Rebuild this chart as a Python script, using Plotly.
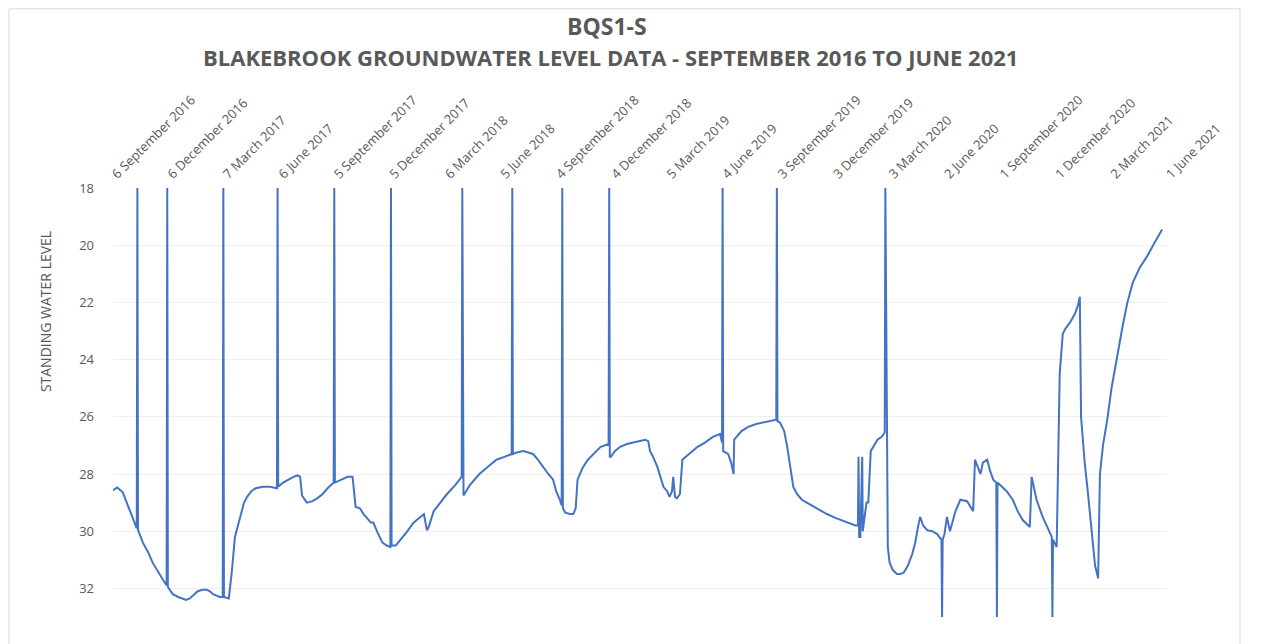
import plotly.graph_objects as go

# ---- data ----
dates = [
    "2016-09-06", "2016-09-13", "2016-09-22", "2016-09-30", "2016-10-08", "2016-10-15", "2016-10-16", "2016-10-17",
    "2016-10-25", "2016-11-03", "2016-11-10", "2016-11-18", "2016-11-27", "2016-12-03", "2016-12-04", "2016-12-05",
    "2016-12-13", "2016-12-22", "2016-12-28", "2017-01-04", "2017-01-10", "2017-01-15", "2017-01-23", "2017-01-31",
    "2017-02-07", "2017-02-12", "2017-02-17", "2017-02-23", "2017-02-28", "2017-03-05", "2017-03-06", "2017-03-07",
    "2017-03-15", "2017-03-20", "2017-03-25", "2017-03-30", "2017-04-03", "2017-04-09", "2017-04-14", "2017-04-21",
    "2017-04-28", "2017-05-10", "2017-05-21", "2017-05-30", "2017-06-02", "2017-06-03", "2017-06-04", "2017-06-12",
    "2017-06-20", "2017-06-29", "2017-07-06", "2017-07-10", "2017-07-13", "2017-07-21", "2017-07-30", "2017-08-07",
    "2017-08-16", "2017-08-24", "2017-09-03", "2017-09-04", "2017-09-05", "2017-09-15", "2017-09-26", "2017-10-04",
    "2017-10-09", "2017-10-16", "2017-10-22", "2017-11-03", "2017-11-07", "2017-11-14", "2017-11-22", "2017-11-29",
    "2017-12-05", "2017-12-06", "2017-12-07", "2017-12-14", "2017-12-22", "2018-01-02", "2018-01-12", "2018-01-21",
    "2018-01-29", "2018-02-03", "2018-02-06", "2018-02-14", "2018-02-25", "2018-03-08", "2018-03-21", "2018-04-01",
    "2018-04-02", "2018-04-04", "2018-04-14", "2018-04-30", "2018-05-14", "2018-05-28", "2018-06-10", "2018-06-22",
    "2018-06-23", "2018-06-24", "2018-06-30", "2018-07-11", "2018-07-19", "2018-07-27", "2018-08-04", "2018-08-12",
    "2018-08-21", "2018-08-29", "2018-09-03", "2018-09-09", "2018-09-12", "2018-09-13", "2018-09-14", "2018-09-18",
    "2018-09-25", "2018-10-01", "2018-10-05", "2018-10-08", "2018-10-16", "2018-10-25", "2018-11-03", "2018-11-15",
    "2018-11-28", "2018-11-29", "2018-11-30", "2018-12-02", "2018-12-08", "2018-12-17", "2018-12-28", "2019-01-07",
    "2019-01-19", "2019-01-27", "2019-02-01", "2019-02-04", "2019-02-09", "2019-02-16", "2019-02-21", "2019-02-26",
    "2019-03-04", "2019-03-08", "2019-03-12", "2019-03-14", "2019-03-17", "2019-03-20", "2019-03-25", "2019-03-29",
    "2019-04-06", "2019-04-14", "2019-04-23", "2019-05-05", "2019-05-18", "2019-05-30", "2019-06-02", "2019-06-03",
    "2019-06-04", "2019-06-12", "2019-06-17", "2019-06-21", "2019-06-22", "2019-07-04", "2019-07-15", "2019-07-28",
    "2019-08-10", "2019-08-22", "2019-08-30", "2019-08-31", "2019-09-01", "2019-09-05", "2019-09-12", "2019-09-17",
    "2019-09-22", "2019-09-27", "2019-10-03", "2019-10-11", "2019-10-19", "2019-11-05", "2019-11-21", "2019-12-07",
    "2019-12-24", "2020-01-07", "2020-01-11", "2020-01-12", "2020-01-13", "2020-01-15", "2020-01-18", "2020-01-19",
    "2020-01-25", "2020-01-28", "2020-02-01", "2020-02-06", "2020-02-12", "2020-02-19", "2020-02-24", "2020-02-25",
    "2020-02-29", "2020-03-03", "2020-03-08", "2020-03-15", "2020-03-20", "2020-03-26", "2020-04-02", "2020-04-09",
    "2020-04-14", "2020-04-19", "2020-04-22", "2020-04-27", "2020-05-04", "2020-05-12", "2020-05-20", "2020-05-27",
    "2020-05-28", "2020-05-29", "2020-06-01", "2020-06-05", "2020-06-10", "2020-06-19", "2020-06-27", "2020-07-08",
    "2020-07-18", "2020-07-21", "2020-07-30", "2020-08-03", "2020-08-10", "2020-08-15", "2020-08-20", "2020-08-25",
    "2020-08-26", "2020-08-27", "2020-09-01", "2020-09-11", "2020-09-21", "2020-09-29", "2020-10-07", "2020-10-19",
    "2020-10-22", "2020-10-27", "2020-10-30", "2020-11-09", "2020-11-18", "2020-11-24", "2020-11-25", "2020-11-26",
    "2020-12-02", "2020-12-04", "2020-12-07", "2020-12-12", "2020-12-17", "2020-12-24", "2021-01-01", "2021-01-06",
    "2021-01-09", "2021-01-11", "2021-01-14", "2021-01-17", "2021-01-22", "2021-01-26", "2021-01-31", "2021-02-03",
    "2021-02-08", "2021-02-11", "2021-02-16", "2021-02-23", "2021-03-02", "2021-03-10", "2021-03-20", "2021-03-28",
    "2021-04-06", "2021-04-17", "2021-04-29", "2021-05-12", "2021-05-24",
]

levels = [
    28.57, 28.47, 28.64, 29.10, 29.50, 29.90, 18.0, 29.95,
    30.40, 30.75, 31.10, 31.40, 31.70, 31.90, 18.0, 31.95,
    32.20, 32.30, 32.35, 32.40, 32.35, 32.25, 32.10, 32.05,
    32.05, 32.10, 32.20, 32.25, 32.30, 32.30, 18.0, 32.30,
    32.35, 31.40, 30.20, 29.80, 29.50, 29.00, 28.80, 28.60,
    28.50, 28.45, 28.45, 28.50, 28.50, 18.0, 28.45, 28.30,
    28.20, 28.10, 28.05, 28.10, 28.75, 29.00, 28.95, 28.85,
    28.70, 28.50, 28.30, 18.0, 28.30, 28.20, 28.10, 28.10,
    29.15, 29.20, 29.40, 29.70, 29.70, 30.05, 30.40, 30.50,
    30.55, 18.0, 30.50, 30.50, 30.30, 30.00, 29.70, 29.55,
    29.40, 29.97, 29.85, 29.30, 29.00, 28.70, 28.40, 28.10,
    18.0, 28.75, 28.40, 28.00, 27.75, 27.50, 27.40, 27.30,
    18.0, 27.30, 27.25, 27.20, 27.25, 27.30, 27.50, 27.75,
    28.00, 28.20, 28.60, 28.90, 29.10, 18.0, 29.20, 29.35,
    29.40, 29.40, 29.20, 28.20, 27.80, 27.50, 27.30, 27.05,
    26.95, 18.0, 27.40, 27.40, 27.20, 27.05, 26.95, 26.90,
    26.85, 26.80, 26.85, 27.20, 27.40, 27.75, 28.10, 28.45,
    28.60, 28.80, 28.60, 28.10, 28.80, 28.85, 28.70, 27.50,
    27.35, 27.20, 27.05, 26.90, 26.70, 26.60, 26.90, 18.0,
    27.20, 27.30, 27.60, 28.00, 26.80, 26.50, 26.35, 26.25,
    26.20, 26.15, 26.10, 18.0, 26.15, 26.20, 26.50, 27.05,
    27.80, 28.45, 28.70, 28.90, 29.00, 29.20, 29.40, 29.55,
    29.70, 29.80, 29.80, 27.40, 30.20, 30.20, 27.40, 30.00,
    29.00, 29.00, 27.20, 27.00, 26.80, 26.70, 26.55, 18.0,
    30.55, 31.10, 31.35, 31.50, 31.50, 31.45, 31.20, 30.80,
    30.40, 29.80, 29.50, 29.80, 29.97, 30.00, 30.10, 30.30,
    33.0, 30.30, 30.10, 29.50, 30.00, 29.30, 28.90, 28.95,
    29.30, 27.50, 28.00, 27.60, 27.50, 27.90, 28.20, 28.30,
    33.0, 28.30, 28.40, 28.60, 28.90, 29.30, 29.60, 29.85,
    28.10, 28.60, 28.90, 29.50, 29.90, 30.20, 33.0, 30.30,
    30.55, 28.00, 24.50, 23.10, 22.90, 22.70, 22.40, 22.10,
    21.80, 26.00, 26.80, 27.60, 28.60, 29.50, 30.60, 31.20,
    31.65, 28.00, 27.00, 26.10, 25.00, 24.00, 22.85, 22.00,
    21.30, 20.80, 20.40, 19.90, 19.45,
]

tick_dates = [
    "2016-09-06", "2016-12-06", "2017-03-07", "2017-06-06", "2017-09-05", "2017-12-05", "2018-03-06",
    "2018-06-05", "2018-09-04", "2018-12-04", "2019-03-05", "2019-06-04", "2019-09-03", "2019-12-03",
    "2020-03-03", "2020-06-02", "2020-09-01", "2020-12-01", "2021-03-02", "2021-06-01",
]
tick_labels = [
    "6 September 2016", "6 December 2016", "7 March 2017", "6 June 2017", "5 September 2017",
    "5 December 2017", "6 March 2018", "5 June 2018", "4 September 2018", "4 December 2018",
    "5 March 2019", "4 June 2019", "3 September 2019", "3 December 2019", "3 March 2020",
    "2 June 2020", "1 September 2020", "1 December 2020", "2 March 2021", "1 June 2021",
]
y_ticks = [18, 20, 22, 24, 26, 28, 30, 32]

title_text = "BQS1-S"
subtitle_text = "BLAKEBROOK GROUNDWATER LEVEL DATA - SEPTEMBER 2016 TO JUNE 2021"
y_title = "STANDING WATER LEVEL"

# ---- figure ----
W, H = 1262, 644
OFF = 8  # the page body margin shifts the figure by 8px
# plot area in screen pixels: x 113..1167, y 188..616.6
L = 113 - OFF
T = 188 - OFF
R = W - (1167 - OFF)
B = H - (616.6 - OFF)
pw, ph = 1167 - 113, 616.6 - 188

def px(x):
    return (x - 113) / pw

def py(y):
    return (616.6 - y) / ph

grey = "#595959"
font_family = "Open Sans, Liberation Sans, sans-serif"

fig = go.Figure()
fig.add_trace(go.Scatter(
    x=dates, y=levels, mode="lines",
    line=dict(color="#4472C4", width=2),
    hoverinfo="x+y", showlegend=False,
))

fig.update_layout(
    width=W, height=H,
    margin=dict(l=L, r=R, t=T, b=B, autoexpand=False),
    paper_bgcolor="white", plot_bgcolor="white",
    font=dict(family=font_family, color=grey),
    showlegend=False,
    xaxis=dict(
        type="date", side="top",
        range=[tick_dates[0], tick_dates[-1]],
        tickmode="array", tickvals=tick_dates, ticktext=tick_labels,
        tickangle=-45, tickfont=dict(size=13, color=grey),
        showgrid=False, zeroline=False, showline=False, ticks="",
        ticklabelstandoff=3,
    ),
    yaxis=dict(
        range=[33, 18], tickmode="array", tickvals=y_ticks,
        tickfont=dict(size=13, color=grey),
        showgrid=True, gridcolor="#f0f0f0", gridwidth=1,
        zeroline=False, showline=False, ticks="",
        ticklabelstandoff=18,
    ),
    annotations=[
        dict(text="<b>" + title_text + "</b>", x=px(607), y=py(26), xref="paper", yref="paper",
             xanchor="center", yanchor="middle", showarrow=False,
             font=dict(size=23, color=grey, family=font_family)),
        dict(text="<b>" + subtitle_text + "</b>", x=px(610), y=py(57), xref="paper", yref="paper",
             xanchor="center", yanchor="middle", showarrow=False,
             font=dict(size=22, color=grey, family=font_family)),
        dict(text=y_title, x=px(45), y=py(312), xref="paper", yref="paper",
             xanchor="center", yanchor="middle", showarrow=False, textangle=-90,
             font=dict(size=14, color=grey, family=font_family)),
    ],
    shapes=[
        dict(type="rect", xref="paper", yref="paper",
             x0=px(9), x1=px(1240), y0=py(660), y1=py(9),
             line=dict(color="#d9d9d9", width=1), fillcolor="rgba(0,0,0,0)", layer="below"),
    ],
)

fig.write_html("out.html")
